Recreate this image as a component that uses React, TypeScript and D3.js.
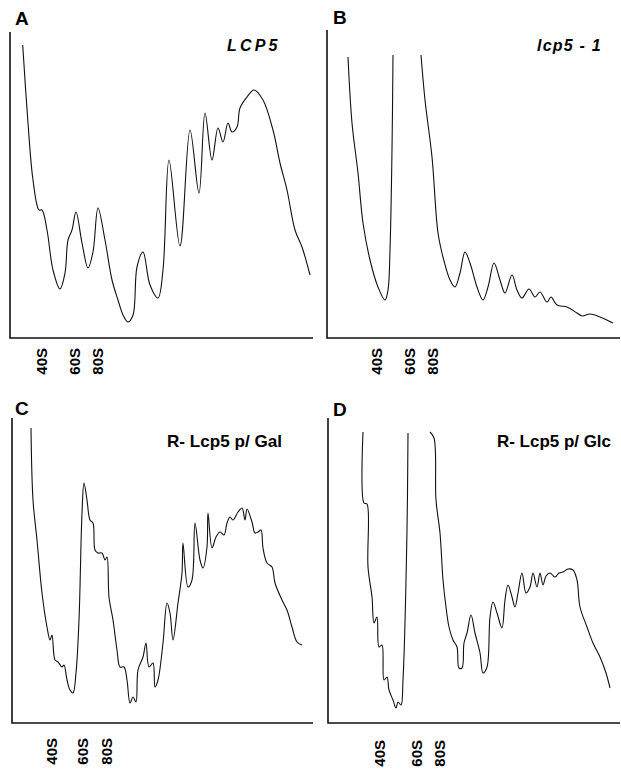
import React from "react";
import * as d3 from "d3";

// ---- data (gradient position vs. A254) ----
const sedLabels = ["40S", "60S", "80S"];

const aX = [12.7, 18, 23, 29, 32, 37, 43, 50, 55, 58, 62, 66, 72, 78, 83, 88, 95, 102, 108, 113, 118, 123, 127, 133, 140, 148, 153, 159, 170, 180, 189, 195, 202, 208, 213, 218, 222, 227, 230, 237, 244, 253, 263, 270, 277, 285, 292, 300];
const aY = [293, 215, 158, 128, 128, 108, 68, 49, 65, 98, 108, 126, 95, 70, 86, 130, 98, 58, 38, 23, 16, 23, 71, 86, 53, 40, 68, 178, 92, 208, 145, 225, 178, 210, 196, 215, 206, 211, 230, 241, 248, 238, 208, 175, 148, 108, 91, 63];
const aTicks = [32, 65, 88];

const b1X = [21, 25, 31, 36, 43, 51, 58, 61, 63, 65, 66];
const b1Y = [281, 215, 165, 115, 78, 51, 38, 48, 88, 188, 283];
const b2X = [94, 98, 105, 111, 116, 123, 128, 133, 138, 143, 150, 156, 161, 167, 173, 178, 185, 190, 195, 202, 208, 213, 220, 224, 230, 240, 250, 255, 263, 273, 286];
const b2Y = [283, 238, 181, 105, 81, 58, 51, 65, 86, 75, 51, 38, 51, 75, 58, 45, 63, 48, 40, 49, 41, 46, 36, 41, 33, 31, 25, 22, 24, 21, 15];
const bTicks = [50, 83, 106];

const cX = [19, 21, 25, 30, 35, 38, 40, 43, 46, 50, 52, 55, 58, 61, 64, 67, 70, 72, 75, 78, 81, 83, 86, 90, 93, 95, 97, 101, 105, 108, 112, 115, 118, 121, 124, 126, 131, 134, 137, 141, 143, 146, 151, 155, 158, 161, 166, 170, 171, 176, 180, 183, 188, 191, 195, 196, 200, 204, 208, 212, 215, 218, 221, 226, 230, 233, 235, 240, 243, 246, 249, 251, 255, 260, 263, 270, 275, 280, 285, 290];
const cY = [295, 223, 183, 130, 96, 83, 88, 63, 61, 56, 58, 43, 33, 30, 50, 103, 210, 240, 223, 203, 200, 173, 170, 170, 163, 166, 126, 103, 73, 56, 56, 43, 20, 26, 21, 53, 66, 80, 56, 60, 36, 43, 80, 120, 110, 83, 120, 150, 180, 136, 143, 200, 163, 155, 176, 210, 175, 186, 191, 188, 200, 206, 203, 211, 215, 203, 214, 201, 190, 191, 193, 175, 160, 156, 140, 123, 113, 96, 81, 78];
const cTicks = [40, 71, 95];

const d1X = [35, 36, 39, 40, 44, 46, 49, 51, 54, 56, 59, 61, 65, 68, 70, 73, 75, 79, 80];
const d1Y = [291, 220, 219, 156, 126, 100, 106, 76, 78, 43, 46, 33, 23, 15, 21, 18, 43, 193, 290];
const d2X = [102, 106, 108, 112, 115, 118, 121, 125, 129, 131, 134, 136, 139, 143, 147, 152, 155, 159, 162, 165, 169, 174, 177, 180, 184, 187, 190, 194, 198, 202, 205, 209, 212, 215, 218, 222, 227, 231, 235, 240, 245, 249, 252, 259, 265, 272, 278, 282];
const d2Y = [291, 285, 223, 190, 143, 116, 96, 83, 76, 55, 55, 80, 90, 108, 90, 70, 50, 56, 106, 121, 110, 95, 123, 138, 126, 116, 130, 150, 130, 136, 150, 136, 150, 138, 147, 150, 146, 150, 151, 154, 153, 143, 116, 96, 80, 66, 50, 35];
const dTicks = [52, 89, 112];

// ---- layout ----
type Panel = {
  letter: string;
  left: number; top: number; right: number; bottom: number;
  letterX: number; letterY: number;
  segs: [number[], number[]][];
  ticks: number[];
  tickTop: number;
};

const panels: Panel[] = [
  { letter: "A", left: 10, top: 32, right: 313, bottom: 338, letterX: 15, letterY: 25, segs: [[aX, aY]], ticks: aTicks, tickTop: 348 },
  { letter: "B", left: 327, top: 30, right: 620, bottom: 338, letterX: 333, letterY: 24, segs: [[b1X, b1Y], [b2X, b2Y]], ticks: bTicks, tickTop: 348 },
  { letter: "C", left: 12, top: 418, right: 313, bottom: 723, letterX: 15, letterY: 415, segs: [[cX, cY]], ticks: cTicks, tickTop: 738 },
  { letter: "D", left: 328, top: 418, right: 620, bottom: 723, letterX: 333, letterY: 416, segs: [[d1X, d1Y], [d2X, d2Y]], ticks: dTicks, tickTop: 740 },
];

const FONT = "Liberation Sans, Arial, Helvetica, sans-serif";

function PanelView({ p }: { p: Panel }) {
  const x = d3.scaleLinear().domain([0, p.right - p.left]).range([p.left, p.right]);
  const y = d3.scaleLinear().domain([0, p.bottom - p.top]).range([p.bottom, p.top]);
  const line = d3
    .line<[number, number]>()
    .x((d) => x(d[0]))
    .y((d) => y(d[1]))
    .curve(d3.curveCatmullRom.alpha(0.5));
  return (
    <g>
      <text x={p.letterX} y={p.letterY} fontFamily={FONT} fontWeight="bold" fontSize={19} fill="#000">
        {p.letter}
      </text>
      <path d={`M${x(0)},${y(p.bottom - p.top)}V${y(0)}H${x(p.right - p.left)}`} fill="none" stroke="#111" strokeWidth={1.6} />
      {p.segs.map(([xs, ys], i) => (
        <path key={i} d={line(xs.map((v, j) => [v, ys[j]] as [number, number])) || ""} fill="none" stroke="#111" strokeWidth={1.1} strokeLinejoin="round" />
      ))}
      {p.ticks.map((t, i) => (
        <text
          key={i}
          transform={`translate(${x(t)},${p.tickTop}) rotate(-90)`}
          textAnchor="end"
          dy="0.36em"
          fontFamily={FONT}
          fontWeight="bold"
          fontSize={15}
          fill="#000"
        >
          {sedLabels[i]}
        </text>
      ))}
    </g>
  );
}

export default function App() {
  return (
    <div style={{ position: "absolute", left: 0, top: 0 }}>
      <svg width={621} height={770} style={{ display: "block", background: "#fff" }}>
        {panels.map((p) => (
          <PanelView key={p.letter} p={p} />
        ))}
        <text x={227} y={51} fontFamily={FONT} fontWeight="bold" fontStyle="italic" fontSize={16} letterSpacing={3.2} fill="#000">
          LCP5
        </text>
        <text x={537} y={51} fontFamily={FONT} fontWeight="bold" fontStyle="italic" fontSize={16} letterSpacing={1.2} fill="#000">
          lcp5 - 1
        </text>
        <text x={167} y={447} fontFamily={FONT} fontWeight="bold" fontSize={17} textLength={115} lengthAdjust="spacingAndGlyphs" fill="#000">
          R- Lcp5 p/ Gal
        </text>
        <text x={497} y={447} fontFamily={FONT} fontWeight="bold" fontSize={17} textLength={114} lengthAdjust="spacingAndGlyphs" fill="#000">
          R- Lcp5 p/ Glc
        </text>
      </svg>
    </div>
  );
}
